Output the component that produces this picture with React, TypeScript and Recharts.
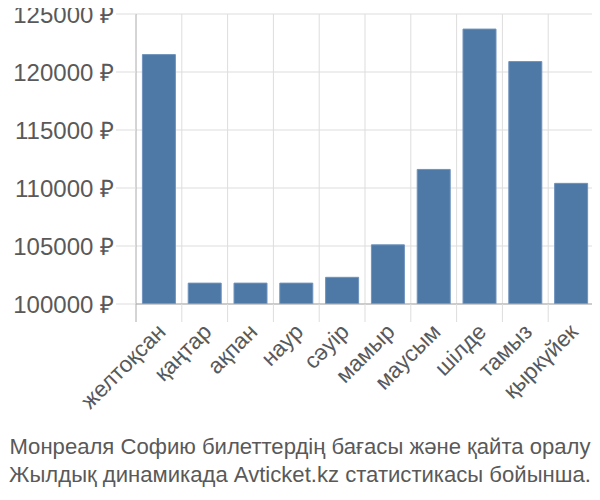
import React from "react";
import { BarChart, Bar, XAxis, YAxis, CartesianGrid } from "recharts";

const months = ["желтоқсан", "қаңтар", "ақпан", "наур", "сәуір", "мамыр", "маусым", "шілде", "тамыз", "қыркүйек"];
const prices = [121500, 101800, 101800, 101800, 102300, 105100, 111600, 123700, 120900, 110400];
const yTicks = [100000, 105000, 110000, 115000, 120000, 125000];
const titleLines = [
  "Монреаля Софию билеттердің бағасы және қайта оралу",
  "Жылдық динамикада Avticket.kz статистикасы бойынша.",
];

const data = months.map((m, i) => ({ month: m, price: prices[i] }));

const W = 600;
const H = 500;
const MARGIN = { top: 14, right: 6, bottom: 0, left: 0 };
const YW = 136;
const XH = 196;
const PLOT_W = W - MARGIN.left - MARGIN.right - YW;
const BAND = PLOT_W / months.length;
const FONT = "'Liberation Sans', Arial, sans-serif";
const FS = 22.5;
const TEXT = "#595959";
const GRID = "#dddddd";
const AXIS = "#aaaaaa";

const XTick = (props: any) => {
  const { x, y, payload, index } = props;
  const left = x - BAND / 2;
  const right = x + BAND / 2;
  const y0 = y - 20;
  const y1 = y - 2;
  const tx = x + 4;
  const ty = y + 5;
  return (
    <g>
      <line x1={left} x2={left} y1={y0} y2={y1} stroke={index === 0 ? AXIS : GRID} strokeWidth={1} />
      {index === months.length - 1 && (
        <line x1={right} x2={right} y1={y0} y2={y1} stroke={GRID} strokeWidth={1} />
      )}
      <text
        x={tx}
        y={ty}
        textAnchor="end"
        dominantBaseline="middle"
        transform={`rotate(-45 ${tx} ${ty})`}
        fontFamily={FONT}
        fontSize={FS}
        fill={TEXT}
      >
        {payload.value}
      </text>
    </g>
  );
};

const vertGen = ({ offset }: any) => {
  const out: number[] = [];
  for (let i = 1; i <= months.length; i++) out.push(offset.left + i * (offset.width / months.length));
  return out;
};

export default function App() {
  return (
    <div style={{ margin: -8, width: W, height: H, position: "relative", background: "#fff" }}>
      <BarChart width={W} height={H} data={data} margin={MARGIN} barCategoryGap="14%">
        <CartesianGrid stroke={GRID} strokeWidth={1} verticalCoordinatesGenerator={vertGen} />
        <XAxis
          dataKey="month"
          interval={0}
          height={XH}
          tickSize={18}
          tickMargin={2}
          tickLine={false}
          axisLine={{ stroke: AXIS }}
          tick={<XTick />}
        />
        <YAxis
          width={YW}
          domain={[100000, 125000]}
          ticks={yTicks}
          interval={0}
          allowDataOverflow
          tickSize={20}
          tickMargin={2}
          tickLine={{ stroke: GRID }}
          axisLine={{ stroke: AXIS }}
          tickFormatter={(v: number) => `${v} ₽`}
          tick={{ fontFamily: FONT, fontSize: 24, fill: TEXT }}
        />
        <Bar dataKey="price" fill="#4e79a7" stroke="#6f93bd" strokeWidth={1} isAnimationActive={false} />
      </BarChart>
      <div
        style={{
          position: "absolute",
          left: 0,
          top: 433,
          width: W,
          textAlign: "center",
          fontFamily: FONT,
          fontSize: 22.1,
          lineHeight: "28px",
          color: TEXT,
          whiteSpace: "nowrap",
        }}
      >
        {titleLines.map((t) => (
          <div key={t}>{t}</div>
        ))}
      </div>
    </div>
  );
}
